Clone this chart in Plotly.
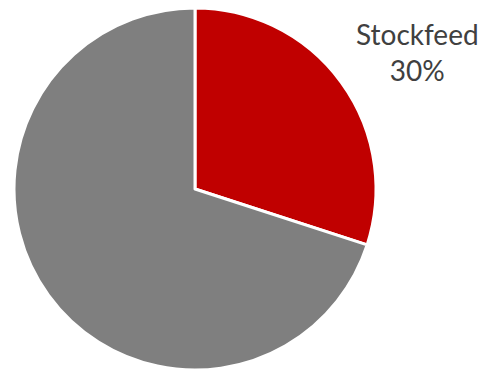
import plotly.graph_objects as go

# Share of use, percent
categories = ["Stockfeed", "Other"]
shares = [30, 70]
colors = ["#c00000", "#7f7f7f"]

fig = go.Figure(
    go.Pie(
        labels=categories,
        values=shares,
        sort=False,
        direction="clockwise",
        rotation=0,
        marker=dict(colors=colors, line=dict(color="white", width=3)),
        textinfo="none",
        hoverinfo="label+percent",
        domain=dict(x=[13 / 481, 377 / 481], y=[0, 1]),
        showlegend=False,
    )
)

# Label for the highlighted slice, placed outside the pie at upper right
fig.add_annotation(
    x=417 / 481, y=0.878, xref="paper", yref="paper",
    xanchor="center", yanchor="middle",
    text=f"{categories[0]}<br>{shares[0]}%",
    showarrow=False,
    font=dict(family="Lato", size=28, color="#404040"),
    align="center",
)

fig.update_layout(
    width=481,
    height=370,
    margin=dict(l=0, r=0, t=8, b=0),
    paper_bgcolor="white",
    plot_bgcolor="white",
)

fig.write_html("out.html")
